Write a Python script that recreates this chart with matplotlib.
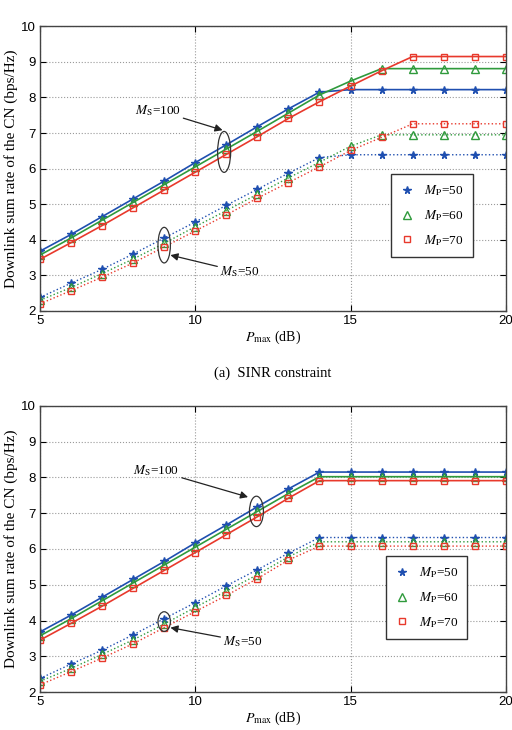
import matplotlib
matplotlib.use('Agg')
import matplotlib.pyplot as plt
from matplotlib.patches import Ellipse

plt.rcParams['font.family'] = ['Liberation Serif', 'DejaVu Serif']
plt.rcParams['mathtext.fontset'] = 'stix'

p_max = [5, 6, 7, 8, 9, 10, 11, 12, 13, 14, 15, 16, 17, 18, 19, 20]
mp_labels = [r'$M_{\rm P}$=50', r'$M_{\rm P}$=60', r'$M_{\rm P}$=70']

# (a) SINR constraint
sinr_ms100_mp50 = [3.68, 4.15, 4.65, 5.15, 5.65, 6.17, 6.67, 7.18, 7.68, 8.15, 8.22, 8.22, 8.22, 8.22, 8.22, 8.22]
sinr_ms100_mp60 = [3.57, 4.05, 4.55, 5.05, 5.55, 6.05, 6.55, 7.05, 7.56, 8.07, 8.46, 8.81, 8.81, 8.81, 8.81, 8.81]
sinr_ms100_mp70 = [3.45, 3.92, 4.40, 4.90, 5.40, 5.90, 6.40, 6.90, 7.41, 7.88, 8.32, 8.75, 9.15, 9.15, 9.15, 9.15]
sinr_ms50_mp50 = [2.38, 2.78, 3.17, 3.60, 4.05, 4.50, 4.97, 5.42, 5.87, 6.31, 6.39, 6.39, 6.39, 6.39, 6.39, 6.39]
sinr_ms50_mp60 = [2.30, 2.66, 3.05, 3.46, 3.90, 4.37, 4.82, 5.28, 5.74, 6.18, 6.63, 6.95, 6.95, 6.95, 6.95, 6.95]
sinr_ms50_mp70 = [2.20, 2.57, 2.95, 3.35, 3.80, 4.25, 4.70, 5.17, 5.61, 6.05, 6.51, 6.88, 7.26, 7.26, 7.26, 7.26]

# (b) second constraint
b_ms100_mp50 = [3.68, 4.15, 4.65, 5.15, 5.65, 6.17, 6.67, 7.18, 7.68, 8.15, 8.15, 8.15, 8.15, 8.15, 8.15, 8.15]
b_ms100_mp60 = [3.57, 4.05, 4.55, 5.05, 5.55, 6.05, 6.55, 7.05, 7.55, 8.02, 8.02, 8.02, 8.02, 8.02, 8.02, 8.02]
b_ms100_mp70 = [3.45, 3.92, 4.40, 4.90, 5.40, 5.90, 6.40, 6.90, 7.42, 7.91, 7.91, 7.91, 7.91, 7.91, 7.91, 7.91]
b_ms50_mp50 = [2.38, 2.78, 3.17, 3.60, 4.05, 4.50, 4.97, 5.42, 5.88, 6.32, 6.32, 6.32, 6.32, 6.32, 6.32, 6.32]
b_ms50_mp60 = [2.30, 2.66, 3.05, 3.46, 3.90, 4.37, 4.82, 5.28, 5.78, 6.20, 6.20, 6.20, 6.20, 6.20, 6.20, 6.20]
b_ms50_mp70 = [2.20, 2.57, 2.95, 3.35, 3.80, 4.25, 4.70, 5.17, 5.69, 6.08, 6.08, 6.08, 6.08, 6.08, 6.08, 6.08]

colors = ['#1f4fb0', '#2f9a3c', '#e8392c']
markers = ['*', '^', 's']
msizes = [5.5, 5.5, 5]


def draw(ax, solid, dotted, ann):
    for i in range(3):
        mfc = colors[i] if markers[i] == '*' else 'none'
        ax.plot(p_max, solid[i], '-', color=colors[i], lw=1.2, marker=markers[i],
                ms=msizes[i], mfc=mfc, mec=colors[i], mew=1.0)
        ax.plot(p_max, dotted[i], ':', color=colors[i], lw=1.0, marker=markers[i],
                ms=msizes[i], mfc=mfc, mec=colors[i], mew=1.0)
    # legend with markers only
    handles = []
    for i in range(3):
        mfc = colors[i] if markers[i] == '*' else 'none'
        h, = ax.plot([], [], ls='none', marker=markers[i], ms=msizes[i], mfc=mfc,
                     mec=colors[i], mew=1.0, color=colors[i])
        handles.append(h)
    leg = ax.legend(handles, mp_labels, loc='lower right', bbox_to_anchor=ann['leg'],
                    borderaxespad=0, fancybox=False, edgecolor='#333333', fontsize=9.5,
                    labelspacing=0.75, handlelength=1.0, handletextpad=0.8,
                    borderpad=0.7, framealpha=1)
    leg.get_frame().set_linewidth(1.0)

    for (cx, cy, w, h) in ann['ellipses']:
        ax.add_patch(Ellipse((cx, cy), w, h, fill=False, ec='#333333', lw=0.9, zorder=5))
    for txt, xy, xytext in ann['arrows']:
        ax.annotate(txt, xy=xy, xytext=xytext, fontsize=9.5, va='center', ha='left',
                    arrowprops=dict(arrowstyle='-|>', color='#222222', lw=0.9,
                                    mutation_scale=11, shrinkA=0, shrinkB=0))

    ax.set_xlim(5, 20)
    ax.set_ylim(2, 10)
    ax.set_xticks([5, 10, 15, 20])
    ax.set_yticks(range(2, 11))
    ax.grid(True, ls=':', color='#9a9a9a', lw=0.8)
    ax.tick_params(direction='in', top=True, right=True, labelsize=9.5, length=4, pad=3)
    for lab in ax.get_xticklabels() + ax.get_yticklabels():
        lab.set_family(['Liberation Sans', 'DejaVu Sans'])
    for sp in ax.spines.values():
        sp.set_color('#444444')
        sp.set_linewidth(1.0)
    ax.set_xlabel(r'$P_{\rm max}$ (dB)', fontsize=10, labelpad=1)
    ax.set_ylabel('Downlink sum rate of the CN (bps/Hz)', fontsize=11, labelpad=2)


fig = plt.figure(figsize=(5.12, 7.30), dpi=100)
ax1 = fig.add_axes([0.078, 0.574, 0.910, 0.390])
ax2 = fig.add_axes([0.078, 0.052, 0.910, 0.392])

draw(ax1,
     [sinr_ms100_mp50, sinr_ms100_mp60, sinr_ms100_mp70],
     [sinr_ms50_mp50, sinr_ms50_mp60, sinr_ms50_mp70],
     {'leg': (0.929, 0.19),
      'ellipses': [(10.93, 6.47, 0.42, 1.15), (9.0, 3.85, 0.4, 1.0)],
      'arrows': [(r'$M_{\rm S}$=100', (10.88, 7.08), (8.05, 7.64)),
                 (r'$M_{\rm S}$=50', (9.2, 3.57), (10.8, 3.1))]})

draw(ax2,
     [b_ms100_mp50, b_ms100_mp60, b_ms100_mp70],
     [b_ms50_mp50, b_ms50_mp60, b_ms50_mp70],
     {'leg': (0.917, 0.185),
      'ellipses': [(11.97, 7.05, 0.45, 0.85), (9.0, 3.97, 0.4, 0.55)],
      'arrows': [(r'$M_{\rm S}$=100', (11.7, 7.45), (8.0, 8.2)),
                 (r'$M_{\rm S}$=50', (9.2, 3.8), (10.9, 3.42))]})

fig.text(0.532, 0.489, '(a)  SINR constraint', ha='center', va='center', fontsize=10.5)

fig.savefig('out.png', dpi=100)
